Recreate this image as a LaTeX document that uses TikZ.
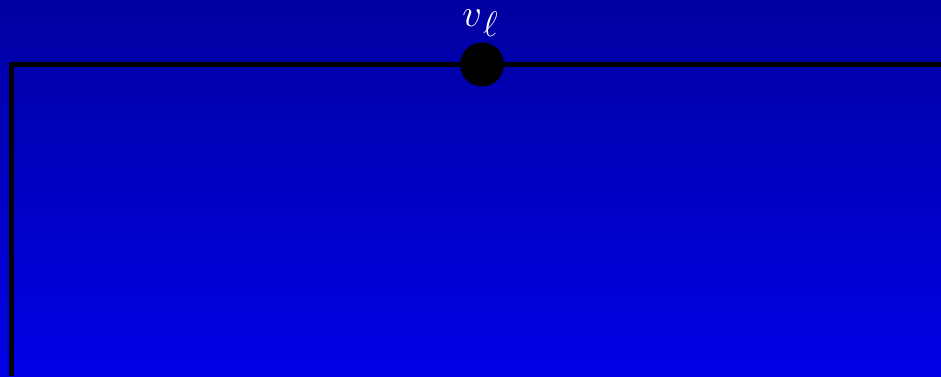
\documentclass[tikz,border=0pt]{standalone}
\usepackage{amsmath}
\usepackage{graphicx}
\begin{document}
\begin{tikzpicture}[x=1pt,y=-1pt,
  wire/.style={line width=5pt,black},
  vertex/.style={circle,fill=black,minimum size=44pt,inner sep=0pt},
  lbl/.style={text=white,inner sep=0pt,font=\Huge,scale=1.55}]
\shade[top color={rgb,255:red,0;green,0;blue,160},bottom color={rgb,255:red,0;green,0;blue,230}] (0,0) rectangle (941,376);
\useasboundingbox (0,0) rectangle (941,376);
\coordinate (bl) at (11.5,376);
\coordinate (tl) at (11.5,64.5);
\coordinate (tr) at (941,64.5);
\node[vertex] (v) at (482,64.5) {};
\draw[wire] (bl) -- (tl) -- (tr);
\node[lbl,anchor=base] (vl) at (480,26) {$v\kern0.03em\raisebox{-0.27em}{\scalebox{0.92}{$\ell$}}$};
\end{tikzpicture}
\end{document}
